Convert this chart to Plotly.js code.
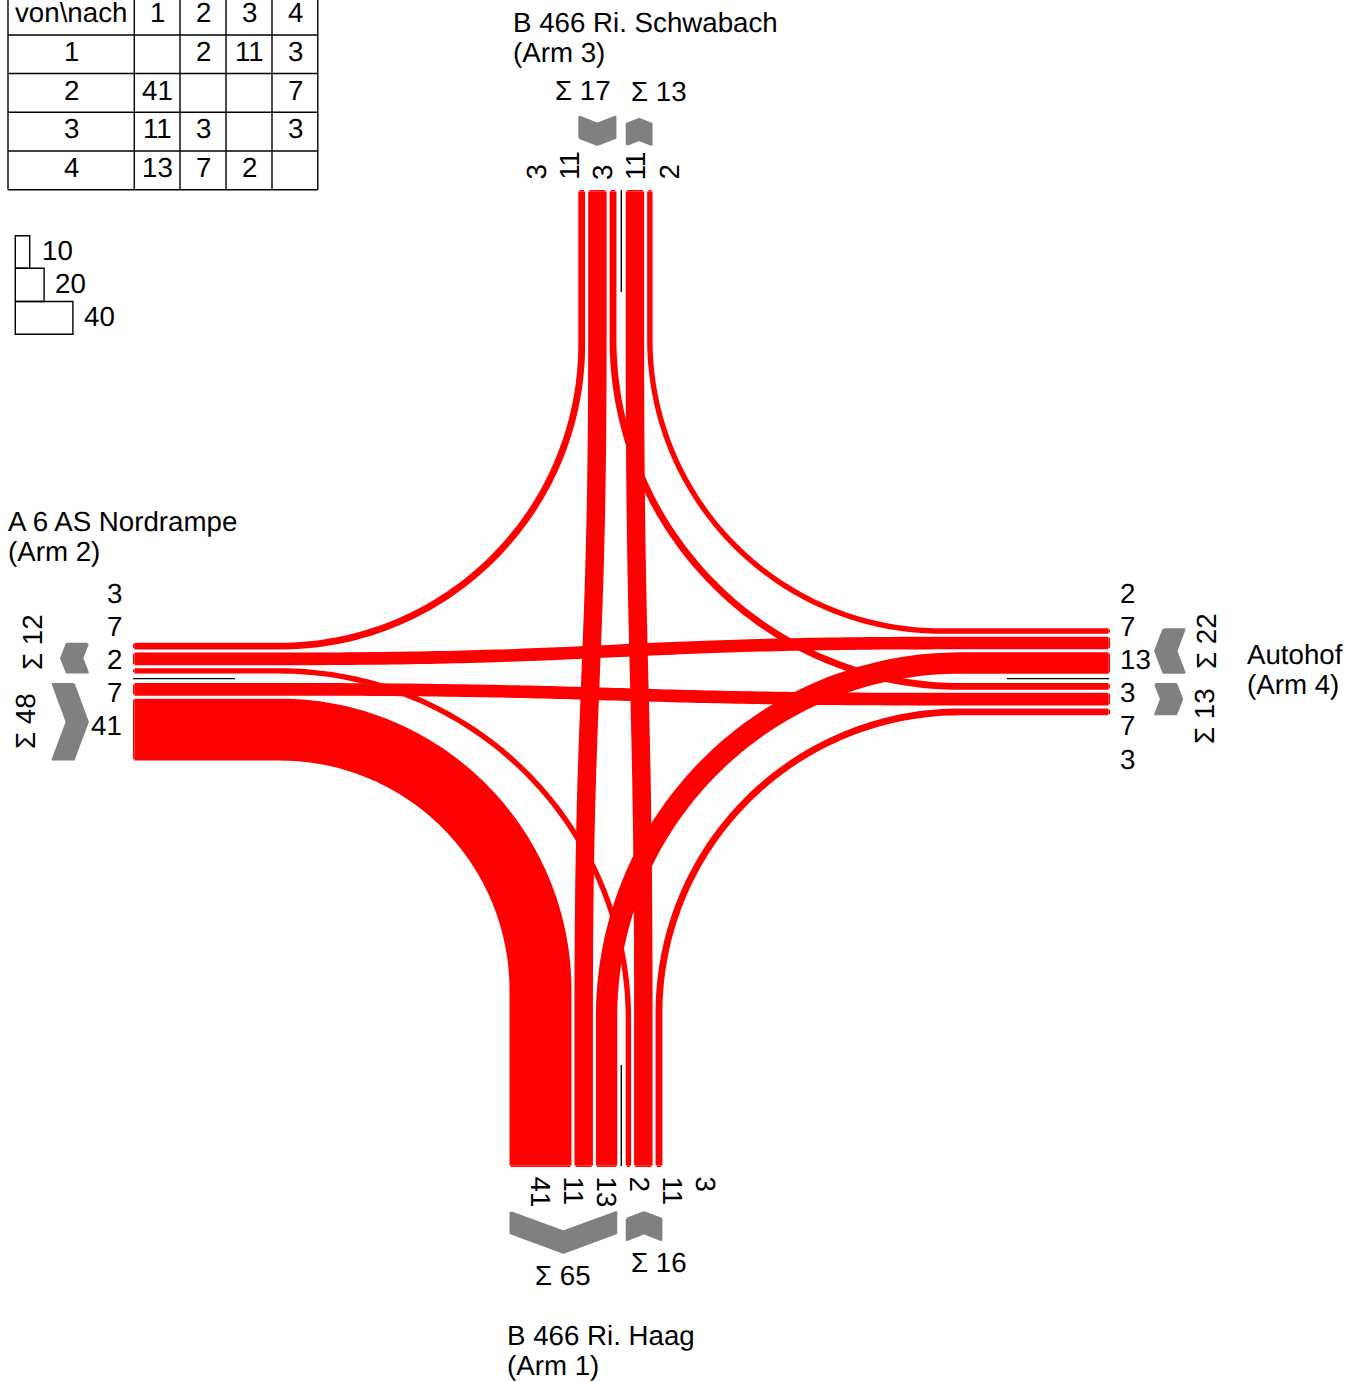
<!DOCTYPE html>
<html>
<head>
<meta charset="utf-8">
<script src="https://cdn.plot.ly/plotly-3.0.1.min.js"></script>
<style>
html,body{margin:0;padding:0;background:#fff;overflow:hidden}
#chart{width:1362px;height:1382px}
.scatterlayer path{stroke-linejoin:round}
svg text{text-rendering:geometricPrecision}
</style>
</head>
<body>
<div id="chart"></div>
<script>
// ---- data ----
const armIds = [1, 2, 3, 4];
const tableCorner = 'von\\nach';
const fromArm1 = [null, 2, 11, 3];
const fromArm2 = [41, null, null, 7];
const fromArm3 = [11, 3, null, 3];
const fromArm4 = [13, 7, 2, null];
const legendValues = [10, 20, 40];
const arm1Title = ['B 466 Ri. Haag', '(Arm 1)'];
const arm2Title = ['A 6 AS Nordrampe', '(Arm 2)'];
const arm3Title = ['B 466 Ri. Schwabach', '(Arm 3)'];
const arm4Title = ['Autohof', '(Arm 4)'];
// lane order per arm as [from, to]; first group then second group, across the median
const arm1LanesA = [[2,1],[3,1],[4,1]], arm1LanesB = [[1,2],[1,3],[1,4]];
const arm2LanesA = [[3,2],[4,2],[1,2]], arm2LanesB = [[2,4],[2,1]];
const arm3LanesA = [[3,2],[3,1],[3,4]], arm3LanesB = [[1,3],[4,3]];
const arm4LanesA = [[4,3],[4,2],[4,1]], arm4LanesB = [[3,4],[2,4],[1,4]];

// ---- layout settings ----
const RED = '#ff0000', GREY = '#808080', FONT = 'Liberation Sans, Arial, sans-serif', FS = 27.7;
const matrix = {1: fromArm1, 2: fromArm2, 3: fromArm3, 4: fromArm4};
const vol = (f, t) => matrix[f][t - 1];
const bandW = v => 1.45 * v + 2.5;
const GAP = 3;
const geo = {
  1: {A: arm1LanesA, B: arm1LanesB, startA: 509.5, startB: 625.7, vertical: true,  end: 1167, knee: 1015, inner: 1212, out: 1},
  2: {A: arm2LanesA, B: arm2LanesB, startA: 642.7, startB: 683,   vertical: false, end: 133,  knee: 280,  inner: 88,   out: -1},
  3: {A: arm3LanesA, B: arm3LanesB, startA: 578.3, startB: 625.7, vertical: true,  end: 190,  knee: 340,  inner: 145,  out: -1},
  4: {A: arm4LanesA, B: arm4LanesB, startA: 628.3, startB: 683,   vertical: false, end: 1110, knee: 950,  inner: 1155, out: 1}
};
const RIGHT_ARC_KNEE = 960;
const laneCentre = {}, groupSpan = {};
armIds.forEach(a => {
  const g = geo[a];
  ['A', 'B'].forEach(k => {
    let p = g['start' + k];
    const first = p;
    g[k].forEach(([f, t]) => {
      const w = bandW(vol(f, t));
      laneCentre[a + ':' + f + '>' + t] = p + w / 2;
      p += w + GAP;
    });
    groupSpan[a + k] = [first, p - GAP];
  });
});

const INSET = 1.5;
function flowPath(f, t) {
  const pf = laneCentre[f + ':' + f + '>' + t], pt = laneCentre[t + ':' + f + '>' + t];
  const gf = geo[f], gt = geo[t], pts = [];
  const at = (g, c, along) => g.vertical ? [c, along] : [along, c];
  const inward = g => g.end - g.out * INSET;
  if (gf.vertical === gt.vertical) {
    pts.push(at(gf, pf, inward(gf)), at(gf, pf, gf.knee));
    const m = (gf.knee + gt.knee) / 2;
    for (let i = 1; i <= 80; i++) {
      const u = i / 80;
      const b = (a0, a1, a2, a3) => (1-u)**3*a0 + 3*(1-u)**2*u*a1 + 3*(1-u)*u*u*a2 + u**3*a3;
      pts.push(at(gf, b(pf, pf, pt, pt), b(gf.knee, m, m, gt.knee)));
    }
    pts.push(at(gt, pt, inward(gt)));
  } else {
    const h = gf.vertical ? gt : gf, v = gf.vertical ? gf : gt;
    const y = gf.vertical ? pt : pf, x = gf.vertical ? pf : pt;
    const isRight = h.out === 1, isTop = v.out === -1;
    let r, cx;
    if (isRight && isTop && x > 640) { r = Math.abs(y - v.knee); cx = x + r; }   // outer corner keeps the arm's knee
    else { cx = isRight ? RIGHT_ARC_KNEE : h.knee; r = Math.abs(x - cx); }
    const sx = x > cx ? 1 : -1, sy = v.out, cy = y + sy * r;
    pts.push([inward(h), y]);
    for (let i = 0; i <= 80; i++) {
      const th = i / 80 * Math.PI / 2;
      pts.push([cx + sx * r * Math.sin(th), cy - sy * r * Math.cos(th)]);
    }
    pts.push([x, inward(v)]);
  }
  const capA = at(gf, pf, gf.end), capB = at(gt, pt, gt.end);
  const capA0 = at(gf, pf, inward(gf)), capB0 = at(gt, pt, inward(gt));
  return {xs: pts.map(p => p[0]), ys: pts.map(p => p[1]),
    capX: [capA0[0], capA[0], null, capB0[0], capB[0]], capY: [capA0[1], capA[1], null, capB0[1], capB[1]]};
}

const traces = [];
armIds.forEach(f => armIds.forEach(t => {
  const v = vol(f, t);
  if (v == null) return;
  const p = flowPath(f, t), w = bandW(v);
  traces.push({type: 'scatter', mode: 'lines', x: p.xs, y: p.ys, hoverinfo: 'skip', showlegend: false,
    line: {color: RED, width: w, simplify: false}});
  traces.push({type: 'scatter', mode: 'lines', x: p.capX, y: p.capY, hoverinfo: 'skip', showlegend: false,
    connectgaps: false, line: {color: RED, width: w - 2.5, simplify: false}});
}));

// ---- chevrons ----
function chevron(arm, key) {
  const g = geo[arm], [a0, b0] = groupSpan[arm + key];
  const toward = g[key][0][0] === arm, e = 1.2;
  const a = a0 + e, b = b0 - e;
  const tip = 0.18 * (b0 - a0), th = 22 - e, mid = (a + b) / 2, o = g.out, i0 = g.inner + o * e * 0.3;
  const q = toward
    ? [[a, i0 + o*tip], [mid, i0], [b, i0 + o*tip], [b, i0 + o*(tip + th)], [mid, i0 + o*th], [a, i0 + o*(tip + th)]]
    : [[a, i0], [mid, i0 + o*tip], [b, i0], [b, i0 + o*th], [mid, i0 + o*(th + tip)], [a, i0 + o*th]];
  q.push(q[0]);
  const across = q.map(p => p[0]), along = q.map(p => p[1]);
  traces.push({type: 'scatter', mode: 'lines', fill: 'toself', fillcolor: GREY, hoverinfo: 'skip', showlegend: false,
    x: g.vertical ? across : along, y: g.vertical ? along : across, line: {color: GREY, width: 2.4}});
}
armIds.forEach(a => { chevron(a, 'A'); chevron(a, 'B'); });

// ---- text helpers ----
const annotations = [];
const note = (text, x, y, o = {}) => {
  const rotatedUp = o.textangle === -90;
  annotations.push(Object.assign({
    text, x: rotatedUp ? x - 1 : x, y: (!o.textangle && !o.yanchor) ? y - 1 : y,
    xref: 'x', yref: 'y', showarrow: false, xanchor: 'center', yanchor: 'middle',
    font: {family: FONT, size: FS, color: '#000'}, borderpad: 0, borderwidth: 0
  }, o));
};
const shapes = [];
const rule = (x0, y0, x1, y1, w = 1.4) => shapes.push({type: 'line', xref: 'x', yref: 'y', x0, y0, x1, y1, line: {color: '#000', width: w}});

// table
const colX = [8, 134.3, 180, 226, 272, 317.8], rowY = [-4, 35, 73.5, 112.3, 151, 189.7];
const colC = [71, 157, 203, 249, 295], rowC = [13, 52, 91, 129, 168];
colX.forEach(x => rule(x, rowY[0], x, rowY[5]));
rowY.slice(1).forEach(y => rule(colX[0], y, colX[5], y));
note(tableCorner, colC[0], rowC[0]);
armIds.forEach((a, i) => {
  note(String(a), colC[i + 1], rowC[0]);
  note(String(a), colC[0], rowC[i + 1]);
  matrix[a].forEach((v, j) => { if (v != null) note(String(v), colC[j + 1], rowC[i + 1]); });
});

// size legend
const legY = [235.7, 268.3, 301.5, 334.3], legLabelX = [42, 55, 84], legLabelY = [251, 284, 317];
legendValues.forEach((v, i) => {
  const x1 = 15.3 + 1.44 * v;
  shapes.push({type: 'rect', xref: 'x', yref: 'y', x0: 15.3, x1, y0: legY[i], y1: legY[i + 1], line: {color: '#000', width: 1.4}, fillcolor: 'rgba(0,0,0,0)'});
  note(String(v), legLabelX[i], legLabelY[i], {xanchor: 'left'});
});

// median rules
rule(621.3, 190, 621.3, 292); rule(621.3, 1065, 621.3, 1166);
rule(133, 678.6, 235, 678.6); rule(1007, 678.6, 1109, 678.6);

// lane labels
const labelsOf = a => geo[a].A.concat(geo[a].B).map(([f, t]) => String(vol(f, t)));
labelsOf(1).forEach((s, i) => note(s, 540 + 33 * i, 1176, {textangle: 90, yanchor: 'top'}));
labelsOf(3).forEach((s, i) => note(s, 537 + 33.25 * i, 180, {textangle: -90, yanchor: 'bottom'}));
labelsOf(2).forEach((s, i) => note(s, 122, 594 + 33.2 * i, {xanchor: 'right'}));
labelsOf(4).forEach((s, i) => note(s, 1120, 594 + 33.2 * i, {xanchor: 'left'}));

// group sums
const sum = (a, k) => 'Σ ' + geo[a][k].reduce((s, [f, t]) => s + vol(f, t), 0);
note(sum(1, 'A'), 563, 1276); note(sum(1, 'B'), 659, 1263);
note(sum(3, 'A'), 583, 91);   note(sum(3, 'B'), 659, 92);
note(sum(2, 'A'), 33, 642, {textangle: -90}); note(sum(2, 'B'), 26, 721, {textangle: -90});
note(sum(4, 'A'), 1207, 641, {textangle: -90}); note(sum(4, 'B'), 1205, 716, {textangle: -90});

// arm titles
[[arm1Title, 507, 1336], [arm2Title, 8, 522], [arm3Title, 513, 23], [arm4Title, 1247, 655]].forEach(([t, x, y]) => {
  t.forEach((s, i) => note(s, x, y + 30 * i, {xanchor: 'left'}));
});

const hidden = {visible: false, fixedrange: true};
Plotly.newPlot('chart', traces, {
  width: 1362, height: 1382, margin: {l: 0, r: 0, t: 0, b: 0, pad: 0},
  paper_bgcolor: '#fff', plot_bgcolor: '#fff', showlegend: false, hovermode: false,
  xaxis: Object.assign({range: [0, 1362]}, hidden),
  yaxis: Object.assign({range: [1382, 0]}, hidden),
  annotations, shapes
}, {displayModeBar: false, staticPlot: true});
</script>
</body>
</html>
